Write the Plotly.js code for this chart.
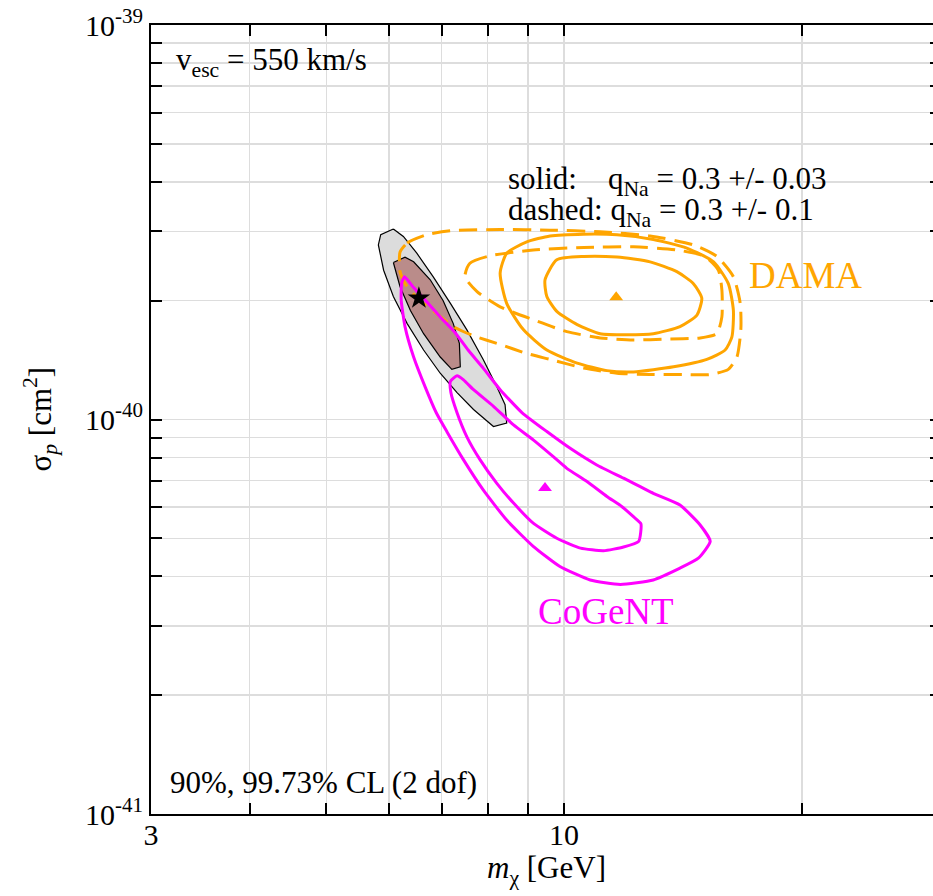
<!DOCTYPE html>
<html>
<head>
<meta charset="utf-8">
<script src="https://cdn.plot.ly/plotly-3.0.1.min.js"></script>
<style>
html,body{margin:0;padding:0;background:#fff;overflow:hidden;}
#chart{width:942px;height:896px;}
</style>
</head>
<body>
<div id="chart"></div>
<script>
// ---- data (x: m_chi in GeV, y: sigma_p in cm^2) ----
const grayX = [6.08,5.86,5.82,5.91,6.08,6.33,6.64,6.97,7.32,7.68,8.14,8.46,8.42,8.22,7.90,7.53,7.18,6.83,6.51,6.26];
const grayY = [3.04e-40,2.94e-40,2.77e-40,2.39e-40,2.05e-40,1.75e-40,1.50e-40,1.31e-40,1.17e-40,1.06e-40,0.96e-40,0.98e-40,1.09e-40,1.21e-40,1.42e-40,1.69e-40,1.97e-40,2.30e-40,2.64e-40,2.91e-40];

const brownX = [6.08,6.29,6.45,6.77,7.03,7.24,7.37,7.39,7.21,6.97,6.64,6.39,6.20];
const brownY = [2.50e-40,2.58e-40,2.51e-40,2.26e-40,2.00e-40,1.75e-40,1.56e-40,1.36e-40,1.34e-40,1.44e-40,1.65e-40,1.89e-40,2.17e-40];

const cogentOuterX = [6.28,6.23,6.22,6.29,6.45,6.67,6.89,7.11,7.46,7.90,8.46,9.14,9.88,10.79,11.78,12.97,14.02,14.79,15.31,14.86,14.02,12.97,11.89,11.0,10.18,9.51,8.85,8.30,7.90,7.56,7.28,6.97,6.67,6.45];
const cogentOuterY = [2.30e-40,2.22e-40,2.01e-40,1.72e-40,1.44e-40,1.21e-40,1.04e-40,0.93e-40,0.79e-40,0.663e-40,0.556e-40,0.477e-40,0.424e-40,0.392e-40,0.382e-40,0.392e-40,0.420e-40,0.445e-40,0.491e-40,0.541e-40,0.607e-40,0.650e-40,0.71e-40,0.767e-40,0.845e-40,0.932e-40,1.04e-40,1.19e-40,1.35e-40,1.50e-40,1.66e-40,1.82e-40,2.01e-40,2.16e-40];

const cogentInnerX = [7.32,7.18,7.19,7.32,7.53,7.83,8.22,8.63,9.14,9.79,10.49,11.22,11.89,12.43,12.51,12.24,11.84,11.33,10.69,10.08,9.69,9.14,8.63,8.14,7.68,7.46];
const cogentInnerY = [1.29e-40,1.25e-40,1.17e-40,1.04e-40,0.905e-40,0.79e-40,0.689e-40,0.614e-40,0.546e-40,0.500e-40,0.472e-40,0.465e-40,0.475e-40,0.491e-40,0.544e-40,0.567e-40,0.601e-40,0.638e-40,0.696e-40,0.752e-40,0.805e-40,0.888e-40,0.969e-40,1.08e-40,1.19e-40,1.26e-40];

const damaSolidInnerX = [9.46,9.79,10.59,11.67,12.85,13.89,14.58,14.94,14.73,14.02,12.97,12.0,11.11,10.39,9.79,9.51];
const damaSolidInnerY = [2.26e-40,2.54e-40,2.59e-40,2.58e-40,2.51e-40,2.37e-40,2.21e-40,2.03e-40,1.84e-40,1.72e-40,1.65e-40,1.64e-40,1.65e-40,1.74e-40,1.88e-40,2.05e-40];

const damaSolidOuterX = [8.30,8.46,8.97,9.60,10.59,11.67,12.97,14.30,15.46,16.14,16.38,16.31,15.99,15.16,13.76,12.24,11.33,10.39,9.51,8.88,8.46];
const damaSolidOuterY = [2.35e-40,2.64e-40,2.82e-40,2.92e-40,2.95e-40,2.94e-40,2.86e-40,2.72e-40,2.51e-40,2.21e-40,1.89e-40,1.62e-40,1.50e-40,1.42e-40,1.36e-40,1.32e-40,1.33e-40,1.39e-40,1.50e-40,1.69e-40,1.97e-40];

const damaDashedInnerX = [7.49,7.60,8.06,9.14,10.59,12.24,13.89,15.08,15.68,15.84,15.84,15.61,14.87,13.49,12.24,11.11,10.08,9.14,8.30,7.76];
const damaDashedInnerY = [2.30e-40,2.49e-40,2.60e-40,2.69e-40,2.73e-40,2.74e-40,2.69e-40,2.59e-40,2.39e-40,2.13e-40,1.82e-40,1.65e-40,1.61e-40,1.60e-40,1.59e-40,1.61e-40,1.67e-40,1.79e-40,1.93e-40,2.11e-40];

const damaDashedOuterX = [6.20,6.33,6.70,7.18,8.30,9.60,11.11,12.85,14.58,15.61,16.38,16.71,16.74,16.55,16.14,15.31,14.16,12.85,11.67,10.59,9.60,8.97,8.30,7.68,7.24,6.89,6.53,6.31,6.20];
const damaDashedOuterY = [2.66e-40,2.80e-40,2.94e-40,3.01e-40,3.03e-40,3.02e-40,2.99e-40,2.92e-40,2.77e-40,2.59e-40,2.30e-40,1.97e-40,1.69e-40,1.44e-40,1.34e-40,1.30e-40,1.30e-40,1.30e-40,1.31e-40,1.35e-40,1.42e-40,1.47e-40,1.55e-40,1.63e-40,1.72e-40,1.86e-40,2.02e-40,2.19e-40,2.37e-40];

const bestFitCombined = {x: [6.55], y: [2.03e-40]};
const bestFitDAMA = {x: [11.64], y: [2.04e-40]};
const bestFitCoGeNT = {x: [9.46], y: [0.67e-40]};

const xTickVals = [3,4,5,6,7,8,9,10,20,30];
const xTickText = ['3','','','','','','','10','',''];
const yTickVals = [1e-41,2e-41,3e-41,4e-41,5e-41,6e-41,7e-41,8e-41,9e-41,1e-40,2e-40,3e-40,4e-40,5e-40,6e-40,7e-40,8e-40,9e-40,1e-39];
const yTickText = ['10<sup>-41</sup>','','','','','','','','','10<sup>-40</sup>','','','','','','','','','10<sup>-39</sup>'];

// ---- helpers ----
function closed(a){ return a.concat([a[0]]); }
const FONT = 'Liberation Serif, Times New Roman, serif';
const ORANGE = '#ffa500';
const MAGENTA = '#ff00ff';

const traces = [
  {x: closed(grayX), y: closed(grayY), mode:'lines', fill:'toself', fillcolor:'#dcdcdc',
   line:{color:'#000', width:1.2}, hoverinfo:'skip', name:'99.73% combined'},
  {x: closed(brownX), y: closed(brownY), mode:'lines', fill:'toself', fillcolor:'rgb(186,140,138)',
   line:{color:'#000', width:1.2}, hoverinfo:'skip', name:'90% combined'},
  {x: closed(damaDashedOuterX), y: closed(damaDashedOuterY), mode:'lines',
   line:{color:ORANGE, width:3, dash:'18px,9px', shape:'spline', smoothing:0.6}, name:'DAMA dashed 99.73%'},
  {x: closed(damaDashedInnerX), y: closed(damaDashedInnerY), mode:'lines',
   line:{color:ORANGE, width:3, dash:'18px,9px', shape:'spline', smoothing:0.6}, name:'DAMA dashed 90%'},
  {x: closed(damaSolidOuterX), y: closed(damaSolidOuterY), mode:'lines',
   line:{color:ORANGE, width:3, shape:'spline', smoothing:0.6}, name:'DAMA 99.73%'},
  {x: closed(damaSolidInnerX), y: closed(damaSolidInnerY), mode:'lines',
   line:{color:ORANGE, width:3, shape:'spline', smoothing:0.6}, name:'DAMA 90%'},
  {x: closed(cogentOuterX), y: closed(cogentOuterY), mode:'lines',
   line:{color:MAGENTA, width:3, shape:'spline', smoothing:0.5}, name:'CoGeNT 99.73%'},
  {x: closed(cogentInnerX), y: closed(cogentInnerY), mode:'lines',
   line:{color:MAGENTA, width:3, shape:'spline', smoothing:0.5}, name:'CoGeNT 90%'},
  {x: bestFitDAMA.x, y: bestFitDAMA.y, mode:'markers', marker:{symbol:'triangle-up', size:12, color:ORANGE}},
  {x: bestFitCoGeNT.x, y: bestFitCoGeNT.y, mode:'markers', marker:{symbol:'triangle-up', size:12, color:MAGENTA}},
  {x: bestFitCombined.x, y: bestFitCombined.y, mode:'markers', marker:{symbol:'star', size:17, color:'#000'}}
];

function px2paperX(p){ return (p-151)/790; }
function px2paperY(p){ return (814-p)/789; }

const ann = (text, xp, yp, size, color, extra) => Object.assign({
  text: text, xref:'paper', yref:'paper', x: xp, y: yp, showarrow:false,
  xanchor:'left', yanchor:'middle', font:{family:FONT, size:size, color:color||'#000'}
}, extra||{});

const layout = {
  width: 942, height: 896,
  margin: {l:151, r:1, t:25, b:82},
  paper_bgcolor:'#fff', plot_bgcolor:'#fff',
  showlegend:false,
  font:{family:FONT, color:'#000'},
  xaxis:{
    type:'log', range:[Math.log10(3), Math.log10(30)],
    tickvals:xTickVals, ticktext:xTickText,
    ticks:'inside', ticklen:11, tickwidth:2, tickcolor:'#000',
    showline:true, linewidth:2, linecolor:'#000', mirror:'ticks',
    showgrid:true, gridcolor:'#dddddd', gridwidth:1.5, zeroline:false,
    tickfont:{family:FONT, size:30, color:'#000'}, automargin:false,
    ticklabelstandoff:-7
  },
  yaxis:{
    type:'log', range:[-41, -39],
    tickvals:yTickVals, ticktext:yTickText,
    ticks:'inside', ticklen:11, tickwidth:2, tickcolor:'#000',
    showline:true, linewidth:2, linecolor:'#000', mirror:'ticks',
    showgrid:true, gridcolor:'#dddddd', gridwidth:1.5, zeroline:false,
    tickfont:{family:FONT, size:30, color:'#000'}, automargin:false
  },
  annotations:[
    ann('v<sub>esc</sub> = 550 km/s', px2paperX(174), px2paperY(62), 31),
    ann('solid:\u00a0\u00a0\u00a0\u00a0q<sub>Na</sub> = 0.3 +/- 0.03', px2paperX(506), px2paperY(181), 31),
    ann('dashed: q<sub>Na</sub> = 0.3 +/- 0.1', px2paperX(506), px2paperY(212), 31),
    ann('DAMA', px2paperX(747), px2paperY(275), 37, ORANGE),
    ann('CoGeNT', px2paperX(536), px2paperY(611), 37, MAGENTA),
    ann('90%, 99.73% CL (2 dof)', px2paperX(168), px2paperY(782), 31),
    ann('<i>m</i><sub>χ</sub> [GeV]', px2paperX(546), px2paperY(870), 31, '#000', {xanchor:'center'}),
    ann('σ<sub><i>p</i></sub> [cm<sup>2</sup>]', px2paperX(40), 0.5, 31, '#000', {xanchor:'center', textangle:-90})
  ]
};

Plotly.newPlot('chart', traces, layout, {displayModeBar:false, staticPlot:true});
</script>
</body>
</html>
